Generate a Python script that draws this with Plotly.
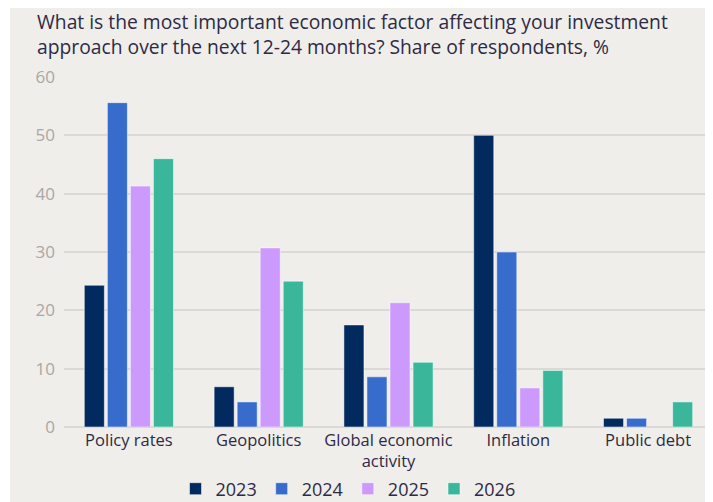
import plotly.graph_objects as go

categories = ["Policy rates", "Geopolitics", "Global economic<br>activity", "Inflation", "Public debt"]
years = ["2023", "2024", "2025", "2026"]
values_2023 = [24.3, 6.9, 17.5, 50.0, 1.5]
values_2024 = [55.6, 4.3, 8.6, 30.0, 1.5]
values_2025 = [41.3, 30.7, 21.3, 6.7, None]
values_2026 = [46.0, 25.0, 11.1, 9.7, 4.3]
y_ticks = [0, 10, 20, 30, 40, 50, 60]

colors = ["#022a5e", "#386ccc", "#cc99fd", "#3ab79b"]
bg = "#efeeea"

# the page body has an 8px margin, so the figure sits at (8, 8)
OX, OY = 8, 8
W, H = 713 - OX, 502 - OY
ml, mr, mt, mb = 64 - OX, 0, 77 - OY, 75
pw, ph = W - ml - mr, H - mt - mb

# window pixel -> paper coords
def px(x):
    return (x - OX - ml) / pw

def py(y):
    return 1 - (y - OY - mt) / ph

fig = go.Figure()
for yr, vals, col in zip(years, [values_2023, values_2024, values_2025, values_2026], colors):
    fig.add_trace(go.Bar(x=categories, y=vals, name=yr,
                         marker=dict(color=col, line=dict(color="rgba(255,255,255,0.5)", width=1))))

fig.update_layout(
    width=W, height=H,
    margin=dict(l=ml, r=mr, t=mt, b=mb, autoexpand=False),
    paper_bgcolor="white",
    plot_bgcolor="rgba(0,0,0,0)",
    barmode="group",
    bargap=0.29,
    bargroupgap=0.13,
    font=dict(family="Open Sans", color="#2e2a45"),
    xaxis=dict(tickfont=dict(size=16.5, color="#2e2a45"), showgrid=False, showline=False,
               ticks="", ticklabelstandoff=1),
    yaxis=dict(range=[0, 60], tickvals=y_ticks, tickfont=dict(size=17, color="#aaa7a4"),
               showgrid=True, gridcolor="#dad9d5", gridwidth=1.5, zeroline=True,
               zerolinecolor="#dad9d5", zerolinewidth=1.5, ticklabelstandoff=8),
    legend=dict(orientation="h", x=px(348), xanchor="center", y=py(489), yanchor="middle",
                font=dict(size=18, color="#2e2a45"), bgcolor="rgba(0,0,0,0)",
                itemwidth=30, traceorder="normal"),
    shapes=[dict(type="rect", xref="paper", yref="paper", x0=px(10), x1=px(713 + 5),
                 y0=py(502 + 5), y1=py(OY), fillcolor=bg, line=dict(width=0), layer="below")],
    annotations=[
        dict(text="What is the most important economic factor affecting your investment<br>"
                  "approach over the next 12-24 months? Share of respondents, %",
             xref="paper", yref="paper", x=px(35), y=py(6), xanchor="left", yanchor="top",
             align="left", showarrow=False, font=dict(size=19.3, color="#2e2a45")),
    ],
)

fig.write_html("out.html")
